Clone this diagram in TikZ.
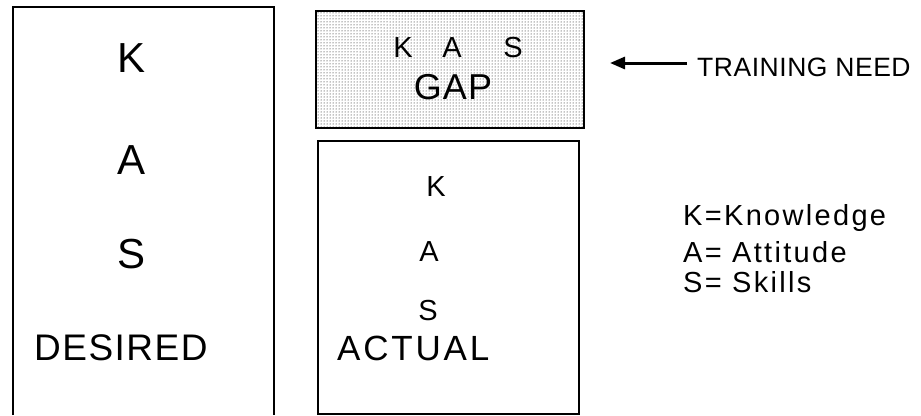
\documentclass[tikz,border=0pt]{standalone}
\usepackage{fontspec}
\setmainfont{Liberation Sans}
\usetikzlibrary{arrows.meta,patterns}

% font sizes (1 unit = 1pt)
\newcommand{\fsz}[2]{\fontsize{#1}{#1}\selectfont\addfontfeatures{LetterSpace=#2}}

\tikzset{
  boxline/.style={draw=black, line width=1.6pt},
  letter/.style={inner sep=0pt, anchor=center},
  bigletter/.style={letter, font=\fsz{42}{0}},
  midletter/.style={letter, font=\fsz{29}{0}},
  word/.style={inner sep=0pt, anchor=base west},
  legend/.style={word, font=\fsz{29}{8}},
}

\begin{document}
\begin{tikzpicture}[x=1pt, y=-1pt]
  \useasboundingbox (0,0) rectangle (921,415);

  % desired level: box open at the bottom
  \coordinate (dbl) at (13,415);
  \coordinate (dtl) at (13,7);
  \coordinate (dtr) at (274,7);
  \coordinate (dbr) at (274,415);
  \draw[boxline] (dbl) -- (dtl) -- (dtr) -- (dbr);
  \node[bigletter] (dk) at (132,58)  {K};
  \node[bigletter] (da) at (132,160) {A};
  \node[bigletter] (ds) at (132,254) {S};
  \node[word, font=\fsz{37}{4}] (desired) at (34,360) {DESIRED};

  % the gap, shaded
  \node[boxline, pattern=dots, pattern color=black,
        minimum width=268pt, minimum height=117pt, inner sep=0pt,
        anchor=north west] (gap) at (315,10) {};
  \node[letter, font=\fsz{29}{0}] (gk) at (403,48) {K};
  \node[letter, font=\fsz{29}{0}] (ga) at (452,48) {A};
  \node[letter, font=\fsz{29}{0}] (gs) at (513,48) {S};
  \node[letter, font=\fsz{36}{3}] (gapword) at (453,87) {GAP};

  % actual level
  \node[boxline, minimum width=261pt, minimum height=273pt, inner sep=0pt,
        anchor=north west] (actual) at (317,140) {};
  \node[midletter] (ak) at (436,187) {K};
  \node[midletter] (aa) at (429,252) {A};
  \node[midletter] (as) at (428,311) {S};
  \node[word, font=\fsz{35}{8}] (actualword) at (337,360) {ACTUAL};

  % training need pointer
  \node[word, font=\fsz{26.5}{2}] (need) at (697,76) {TRAINING NEED};
  \coordinate (tail) at (687,63);
  \coordinate (tip) at (610,63);
  \draw[line width=3pt, -{Triangle[length=15pt,width=12pt]}] (tail) -- (tip);

  % legend
  \node[legend] (lk) at (683,225) {K=Knowledge};
  \node[legend] (la) at (683,262) {A= Attitude};
  \node[legend] (ls) at (683,292) {S= Skills};
\end{tikzpicture}
\end{document}
